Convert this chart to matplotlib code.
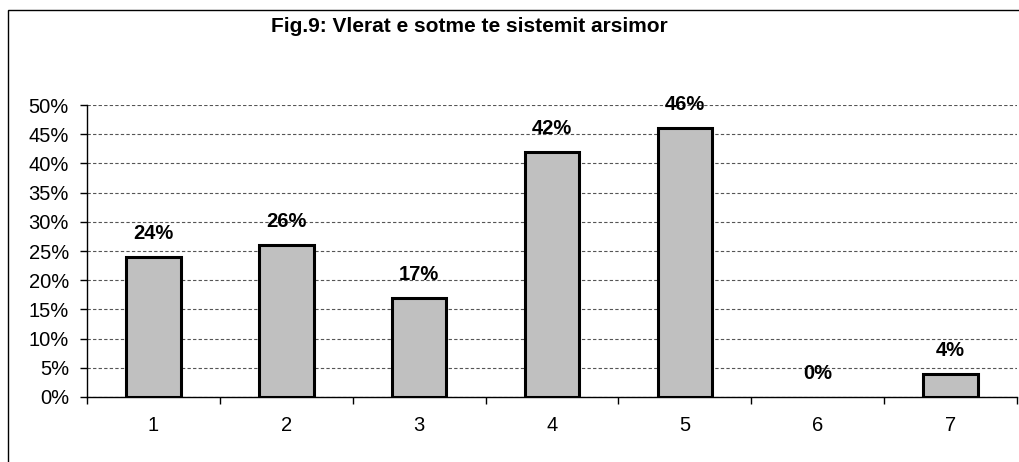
import matplotlib
matplotlib.use('Agg')
import matplotlib.pyplot as plt
from matplotlib.patches import Rectangle
from matplotlib.ticker import FixedLocator, FuncFormatter

categories = ['1', '2', '3', '4', '5', '6', '7']
values = [24, 26, 17, 42, 46, 0, 4]
title = 'Fig.9: Vlerat e sotme te sistemit arsimor'

plt.rcParams['font.family'] = ['Liberation Sans', 'DejaVu Sans']

fig = plt.figure(figsize=(10.19, 4.62), dpi=100)
ax = fig.add_axes([0.0854, 0.1407, 0.9126, 0.632])

x = list(range(len(categories)))
bars = ax.bar(x, values, width=0.41, color='#C0C0C0', edgecolor='black', linewidth=2.2, zorder=3)
for b, v in zip(bars, values):
    if v == 0:
        b.set_linewidth(0)
for xi, v in zip(x, values):
    ax.annotate('%d%%' % v, (xi, v), xytext=(0, 17), textcoords='offset points',
                ha='center', va='center', fontsize=14.5, fontweight='bold')

ax.set_xlim(-0.5, len(categories) - 0.5)
ax.set_ylim(0, 50)
ax.set_yticks(range(0, 51, 5))
ax.yaxis.set_major_formatter(FuncFormatter(lambda v, p: '%d%%' % v))
ax.grid(axis='y', color='#555555', linestyle=(0, (3, 2)), linewidth=0.8, zorder=0)

ax.set_xticks(x)
ax.set_xticklabels(categories)
ax.xaxis.set_minor_locator(FixedLocator([i - 0.5 for i in range(len(categories) + 1)]))
ax.tick_params(axis='x', which='major', length=0, pad=14, labelsize=14.5)
ax.tick_params(axis='x', which='minor', length=5, direction='out', width=1)
ax.tick_params(axis='y', length=5, direction='out', width=1, labelsize=14.5, pad=8)

for s in ['top', 'right']:
    ax.spines[s].set_visible(False)
for s in ['left', 'bottom']:
    ax.spines[s].set_linewidth(1)

fig.text(0.461, 0.942, title, ha='center', va='center', fontsize=15, fontweight='bold')

fig.patches.append(Rectangle((8 / 1019, -0.1), 1.2, 1 - 10 / 462 + 0.1, transform=fig.transFigure,
                             fill=False, edgecolor='black', linewidth=1))

fig.savefig('out.png', dpi=100)
